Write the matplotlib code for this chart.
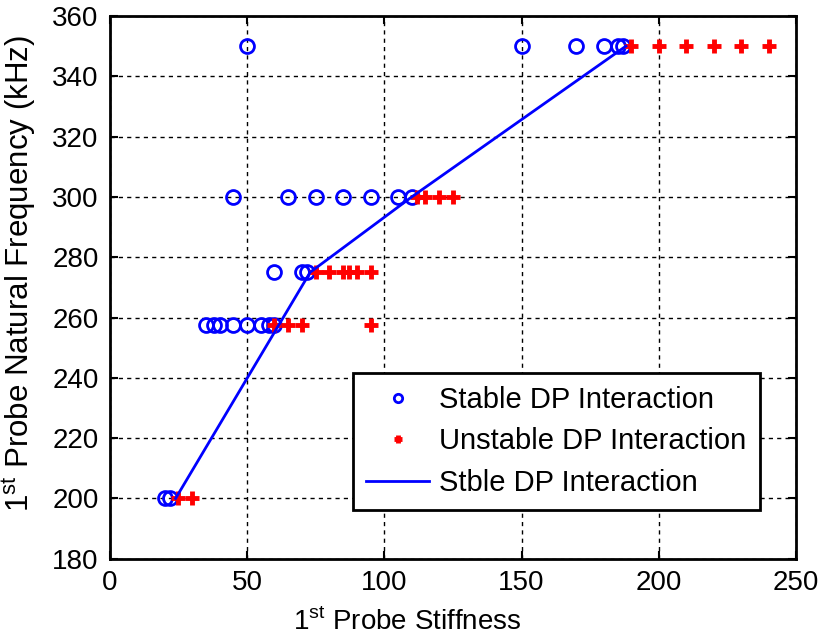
import matplotlib
matplotlib.use("Agg")
import matplotlib.pyplot as plt

plt.rcParams['font.family'] = ['Liberation Sans', 'DejaVu Sans']
plt.rcParams['mathtext.fontset'] = 'custom'
plt.rcParams['mathtext.rm'] = 'Liberation Sans'

# stable points (stiffness, frequency kHz)
stable_x = [20, 22,
            35, 38, 40, 45, 50, 55, 58, 60,
            60, 70, 72,
            45, 65, 75, 85, 95, 105, 110,
            50, 150, 170, 180, 185, 187]
stable_y = [200, 200,
            257.5, 257.5, 257.5, 257.5, 257.5, 257.5, 257.5, 257.5,
            275, 275, 275,
            300, 300, 300, 300, 300, 300, 300,
            350, 350, 350, 350, 350, 350]

# unstable points
unstable_x = [25, 30,
              60, 65, 70, 95,
              75, 80, 85, 87, 90, 95,
              112, 115, 120, 125,
              190, 200, 210, 220, 230, 240]
unstable_y = [200, 200,
              257.5, 257.5, 257.5, 257.5,
              275, 275, 275, 275, 275, 275,
              300, 300, 300, 300,
              350, 350, 350, 350, 350, 350]

# stability boundary line
bound_x = [24, 73, 110, 188]
bound_y = [200, 275, 300, 350]

fig = plt.figure(figsize=(8.25, 6.4), dpi=100)
ax = fig.add_axes([0.133, 0.127, 0.832, 0.848])

ax.plot(stable_x, stable_y, 'o', color='blue', mfc='none', mew=2, ms=10,
        linestyle='none', label='Stable DP Interaction')
ax.plot(unstable_x, unstable_y, '+', color='red', mew=3.5, ms=10,
        linestyle='none', label='Unstable DP Interaction')
ax.plot(bound_x, bound_y, '-', color='blue', lw=2, label='Stble DP Interaction')

ax.set_xlim(0, 250)
ax.set_ylim(180, 360)
ax.set_xticks([0, 50, 100, 150, 200, 250])
ax.set_yticks(range(180, 361, 20))
ax.grid(True, color='black', linestyle=(0, (3, 3)), linewidth=1)
ax.tick_params(direction='in', top=True, right=True, length=6, width=1.5,
               labelsize=20, pad=8)
for s in ax.spines.values():
    s.set_linewidth(2)

ax.set_xlabel(r'1$^{\mathrm{st}}$ Probe Stiffness', fontsize=20)
ax.xaxis.set_label_coords(0.434, -0.09)
ax.set_ylabel(r'1$^{\mathrm{st}}$ Probe Natural Frequency (kHz)', fontsize=22.5)
ax.yaxis.set_label_coords(-0.105, 0.526)

leg = ax.legend(loc='lower right', bbox_to_anchor=(0.947, 0.09), fontsize=21,
                fancybox=False, framealpha=1, edgecolor='black',
                borderpad=0.45, labelspacing=0.46, handlelength=2.17,
                handletextpad=0.35, borderaxespad=0)
leg.get_frame().set_linewidth(2)
for h in leg.legend_handles[:2]:
    h.set_markersize(6)

fig.savefig('out.png', dpi=100)
